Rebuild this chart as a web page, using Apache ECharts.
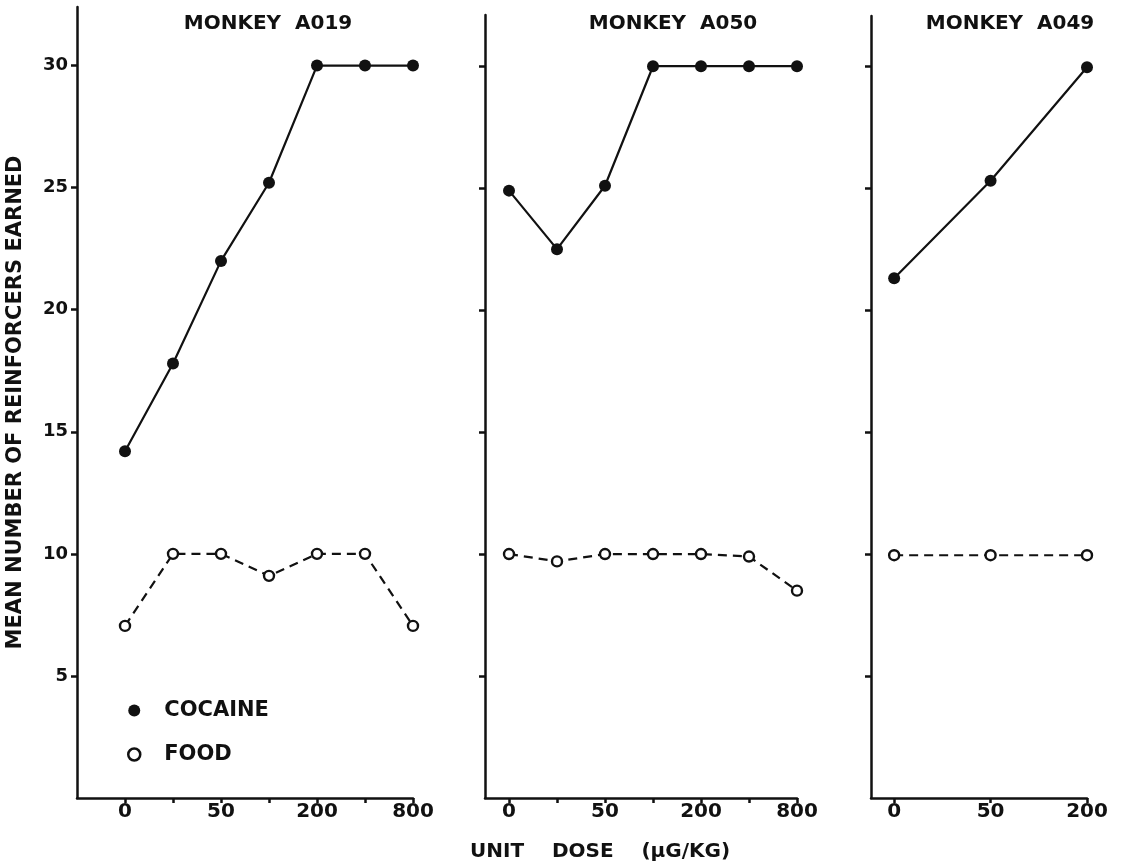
<!DOCTYPE html>
<html>
<head>
<meta charset="utf-8">
<script src="https://cdn.jsdelivr.net/npm/echarts@6/dist/echarts.min.js"></script>
<style>
html,body{margin:0;padding:0;background:#fff;}
#chart{width:1122px;height:865px;}
</style>
</head>
<body>
<div id="chart"></div>
<script>
// ---- data ----
const panelTitles = ['MONKEY  A019', 'MONKEY  A050', 'MONKEY  A049'];
const doseLabelsA019 = ['0', '', '50', '', '200', '', '800'];
const doseLabelsA050 = ['0', '', '50', '', '200', '', '800'];
const doseLabelsA049 = ['0', '50', '200'];
const cocaineA019 = [14.2, 17.8, 22.0, 25.2, 30.0, 30.0, 30.0];
const foodA019    = [7.05, 10.0, 10.0, 9.1, 10.0, 10.0, 7.05];
const cocaineA050 = [24.9, 22.5, 25.1, 30.0, 30.0, 30.0, 30.0];
const foodA050    = [10.0, 9.7, 10.0, 10.0, 10.0, 9.9, 8.5];
const cocaineA049 = [21.3, 25.3, 29.95];
const foodA049    = [9.95, 9.95, 9.95];
const yTickValues = [5, 10, 15, 20, 25, 30];
const yAxisTitle = 'MEAN NUMBER OF REINFORCERS EARNED';
const xAxisTitle = 'UNIT    DOSE    (\u00B5G/KG)';
const legendNames = ['COCAINE', 'FOOD'];

// ---- layout / style ----
const FONT = 'DejaVu Sans';
const INK = '#111';
const panels = [
  {labels: doseLabelsA019, coc: cocaineA019, food: foodA019, grid: {left: 77, right: 709, top: 7, bottom: 67}, xmin: -1, ymax: 32.4, titleX: 268, showY: true},
  {labels: doseLabelsA050, coc: cocaineA050, food: foodA050, grid: {left: 485, right: 325, top: 15, bottom: 67}, xmin: -0.5, ymax: 32.1, titleX: 673, showY: false},
  {labels: doseLabelsA049, coc: cocaineA049, food: foodA049, grid: {left: 871, right: 35, top: 16, bottom: 67}, xmin: -0.24, ymax: 32.05, titleX: 1010, showY: false}
];

const grids = [], xAxes = [], yAxes = [], series = [], titles = [];
panels.forEach((p, i) => {
  grids.push(Object.assign({containLabel: false}, p.grid));
  const idx = p.labels.map((_, k) => k);
  const labIdx = idx.filter(k => p.labels[k] !== '');
  xAxes.push({
    type: 'value', gridIndex: i, min: p.xmin, max: p.labels.length - 1,
    splitLine: {show: false},
    axisLine: {show: true, onZero: false, lineStyle: {color: INK, width: 2.5}},
    axisTick: {show: true, customValues: idx, length: 5, lineStyle: {color: INK, width: 2.5}},
    axisLabel: {show: true, customValues: labIdx, formatter: v => p.labels[Math.round(v)] || '',
      color: INK, fontFamily: FONT, fontWeight: 'bold', fontSize: 20, margin: 4}
  });
  yAxes.push({
    type: 'value', gridIndex: i, min: 0, max: p.ymax,
    splitLine: {show: false},
    axisLine: {show: true, onZero: false, lineStyle: {color: INK, width: 2.5}},
    axisTick: {show: true, customValues: yTickValues, length: 6, lineStyle: {color: INK, width: 2.5}},
    axisLabel: {show: p.showY, customValues: yTickValues, color: INK, fontFamily: FONT, fontWeight: 'bold', fontSize: 18, margin: 9},
    name: p.showY ? yAxisTitle : '',
    nameLocation: 'middle', nameGap: 51, nameRotate: 90,
    nameTextStyle: {color: INK, fontFamily: FONT, fontWeight: 'bold', fontSize: 21}
  });
  titles.push({
    text: panelTitles[i], left: p.titleX, top: 14, textAlign: 'center', padding: 0,
    textStyle: {color: INK, fontFamily: FONT, fontWeight: 'bold', fontSize: 20}
  });
  series.push({
    name: legendNames[0], type: 'line', xAxisIndex: i, yAxisIndex: i,
    data: p.coc.map((v, k) => [k, v]),
    symbol: 'circle', symbolSize: 12,
    itemStyle: {color: INK},
    lineStyle: {color: INK, width: 2.2},
    emphasis: {disabled: true}, z: 3
  });
  series.push({
    name: legendNames[1], type: 'line', xAxisIndex: i, yAxisIndex: i,
    data: p.food.map((v, k) => [k, v]),
    symbol: 'circle', symbolSize: 10,
    itemStyle: {color: '#fff', borderColor: INK, borderWidth: 2.4},
    lineStyle: {color: INK, width: 2.2, type: [9, 6]},
    emphasis: {disabled: true}, z: 3
  });
});

titles.push({
  text: xAxisTitle, left: 600, top: 842, textAlign: 'center', padding: 0,
  textStyle: {color: INK, fontFamily: FONT, fontWeight: 'bold', fontSize: 20}
});

const chart = echarts.init(document.getElementById('chart'), null, {renderer: 'canvas'});
chart.setOption({
  animation: false,
  backgroundColor: '#fff',
  title: titles,
  grid: grids,
  xAxis: xAxes,
  yAxis: yAxes,
  legend: {
    orient: 'vertical', left: 127, top: 700, padding: 0, itemGap: 23,
    itemWidth: 12, itemHeight: 12, selectedMode: false,
    data: [
      {name: legendNames[0], icon: 'circle', itemStyle: {color: INK, borderWidth: 0}},
      {name: legendNames[1], icon: 'circle', itemStyle: {color: '#fff', borderColor: INK, borderWidth: 2.5}}
    ],
    textStyle: {color: INK, fontFamily: FONT, fontWeight: 'bold', fontSize: 21, padding: [0, 0, 0, 19]}
  },
  series: series
});
</script>
</body>
</html>
